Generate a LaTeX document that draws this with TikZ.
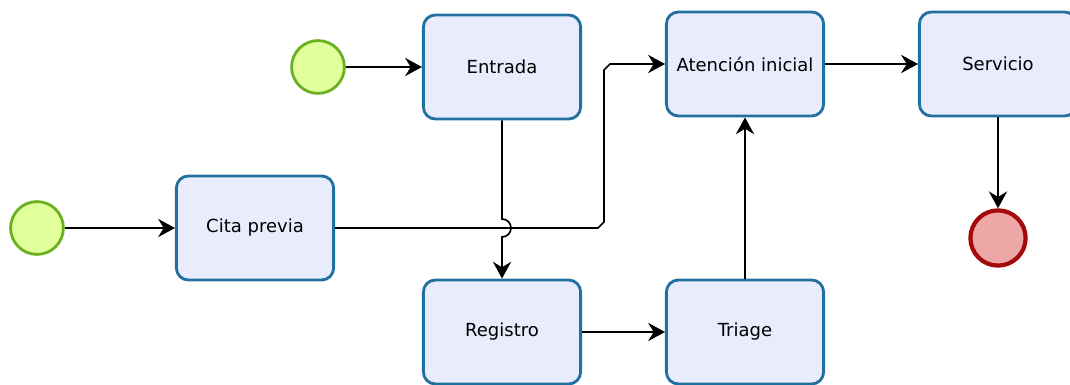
\documentclass[tikz,border=0pt]{standalone}
\usepackage{fontspec}
\setmainfont{DejaVu Sans}
\usetikzlibrary{arrows.meta}
\definecolor{taskfill}{HTML}{E8ECFC}
\definecolor{taskline}{HTML}{2070A0}
\definecolor{startfill}{HTML}{E1FF9A}
\definecolor{startline}{HTML}{6BB022}
\definecolor{endfill}{HTML}{EDA7A7}
\definecolor{endline}{HTML}{A50A0A}
\begin{document}
\begin{tikzpicture}[x = .025cm, y = -.025cm,
		task/.style = {draw = taskline, fill = taskfill, line width = 2pt, rounded corners = .3cm,
			minimum width = 3.93cm, minimum height = 2.6cm, font = \fontsize{12.8}{15}\selectfont},
		startev/.style = {circle, draw = startline, fill = startfill, line width = 2pt, minimum size = 1.32cm},
		endev/.style = {circle, draw = endline, fill = endfill, line width = 3pt, minimum size = 1.38cm},
		flow/.style = {line width = 1.2pt, -{Stealth[length = 12pt, width = 13pt, inset = 4pt]}}]
	\useasboundingbox (0,0) rectangle (1070,385);
	\node[startev] (start1) at (318,67) {};
	\node[startev] (start2) at (37,228) {};
	\node[task] (entrada) at (502,67) {Entrada};
	\node[task] (cita) at (255,228) {Cita previa};
	\node[task] (atencion) at (745,64) {Atención inicial};
	\node[task] (servicio) at (998,64) {Servicio};
	\node[task] (registro) at (502,332) {Registro};
	\node[task] (triage) at (745,332) {Triage};
	\node[endev] (fin) at (998,238) {};
	\draw[flow] (start1) -- (entrada); %primer inicio
	\draw[flow] (start2) -- (cita); %segundo inicio
	\draw[flow] (cita.east) -- (598,228) -- (604,222) -- (604,70) -- (610,64) -- (atencion.west); %cita con salto
	\draw[flow] (entrada.south) -- (502,219) arc[start angle = 90, end angle = -90, radius = .225cm] -- (registro.north); %salto sobre la linea
	\draw[flow] (registro) -- (triage);
	\draw[flow] (triage) -- (atencion);
	\draw[flow] (atencion) -- (servicio);
	\draw[flow] (servicio) -- (fin);
\end{tikzpicture}
\end{document}
